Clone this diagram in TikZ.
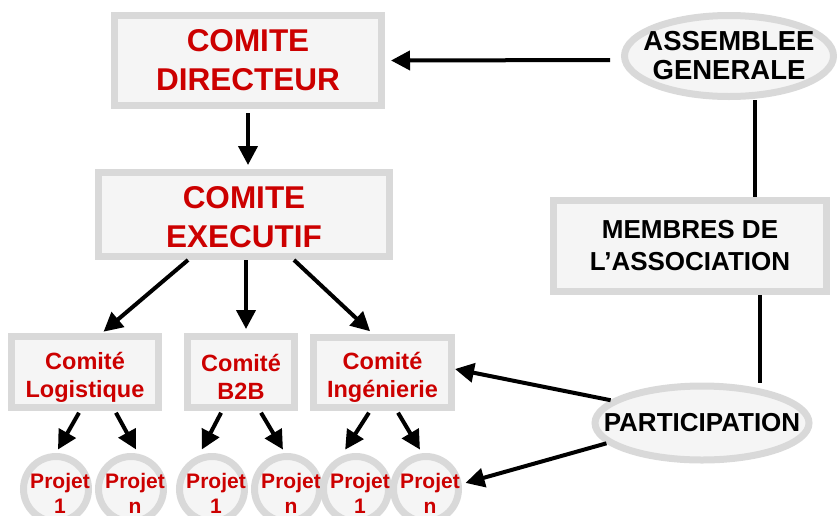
\documentclass[tikz,border=0pt]{standalone}
\usepackage{fontspec}
\setmainfont{Liberation Sans}
\usetikzlibrary{arrows.meta,shapes.geometric,positioning}
\definecolor{comred}{RGB}{204,0,0}
\definecolor{framegray}{RGB}{217,217,217}
\definecolor{panegray}{RGB}{245,245,245}

\begin{document}
\begin{tikzpicture}[x=1pt, y=-1pt,
        box/.style={draw=framegray, fill=panegray, line width=7pt, inner sep=0pt, align=center},
        oval/.style={box, ellipse},
        proj/.style={box, circle, minimum size=65pt},
        big/.style={text=comred, font=\bfseries\fontsize{31.5}{39}\selectfont},
        com/.style={text=comred, font=\bfseries\fontsize{23.5}{28}\selectfont, align=center, yshift=-5pt},
        projtxt/.style={text=comred, font=\bfseries\fontsize{21}{25}\selectfont, align=center, xshift=4pt, yshift=-4pt},
        blk/.style 2 args={text=black, font=\bfseries\fontsize{#1}{#2}\selectfont, align=center},
        arr/.style={-{Triangle[length=19pt,width=19pt]}, line width=4pt},
        link/.style={line width=4pt}]
        \useasboundingbox (0,0) rectangle (837,515);

        % committees
        \node[box, big, minimum width=267pt, minimum height=90pt] (dir) at (248,60.5) {COMITE\\DIRECTEUR};
        \node[box, big, minimum width=291pt, minimum height=84pt, label={[big, align=center, yshift=-3pt]center:COMITE\\EXECUTIF}] (exe) at (244,214.5) {};
        \node[box, minimum width=147pt, minimum height=71pt, label={[com]center:Comité\\Logistique}] (log) at (85,372) {};
        \node[box, minimum width=107pt, minimum height=71pt, label={[com]center:Comité\\B2B}] (b2b) at (241,372) {};
        \node[box, minimum width=138pt, minimum height=70pt, label={[com]center:Comité\\Ingénierie}] (ing) at (382.5,372.5) {};

        % association side
        \node[oval, minimum width=209pt, minimum height=81pt, label={[blk={27.5}{29}]center:ASSEMBLEE\\GENERALE}] (ag) at (729,56) {};
        \node[box, blk={26}{32}, minimum width=273pt, minimum height=91pt] (mem) at (690,246) {MEMBRES DE\\L’ASSOCIATION};
        \node[oval, minimum width=214pt, minimum height=74pt, label={[blk={26}{30}]center:PARTICIPATION}] (part) at (702,423) {};

        % projects
        \node[proj, label={[projtxt]center:Projet\\1}] (p1) at (56,489) {};
        \node[proj, label={[projtxt]center:Projet\\n}] (p2) at (131,489) {};
        \node[proj, label={[projtxt]center:Projet\\1}] (p3) at (212,489) {};
        \node[proj, label={[projtxt]center:Projet\\n}] (p4) at (287,489) {};
        \node[proj, label={[projtxt]center:Projet\\1}] (p5) at (356,489) {};
        \node[proj, label={[projtxt]center:Projet\\n}] (p6) at (426,489) {};

        \draw[arr, shorten <=11pt, shorten >=6pt] ([yshift=-4pt]ag.west) -- (dir.east);
        \draw[arr, shorten <=4pt, shorten >=4pt] (dir.south) -- (dir.south |- exe.north);
        \draw[arr, shorten >=2pt] ([xshift=-56pt]exe.south) -- ([xshift=17pt]log.north);
        \draw[arr, shorten >=4pt] ([xshift=2pt]exe.south) -- ([xshift=5pt]b2b.north);
        \draw[arr, shorten >=4pt] ([xshift=50pt]exe.south) -- ([xshift=-9.5pt]ing.north);

        \draw[arr, shorten <=2pt, shorten >=4pt] ([xshift=-5pt]log.south) -- (p1.north);
        \draw[arr, shorten <=2pt, shorten >=4pt] ([xshift=30pt]log.south) -- ([xshift=7pt]p2.north);
        \draw[arr, shorten <=2pt, shorten >=4pt] ([xshift=-19pt]b2b.south) -- ([xshift=-12pt]p3.north);
        \draw[arr, shorten <=2pt, shorten >=4pt] ([xshift=19pt]b2b.south) -- ([xshift=-2pt]p4.north);
        \draw[arr, shorten <=2pt, shorten >=4pt] ([xshift=-12.5pt]ing.south) -- ([xshift=-13pt]p5.north);
        \draw[arr, shorten <=2pt, shorten >=4pt] ([xshift=14.5pt]ing.south) -- ([xshift=-4pt]p6.north);

        \draw[arr] (part.166) -- ([yshift=3.5pt]ing.east);
        \draw[arr, shorten >=4pt] (part.192) -- (p6.8);

        \draw[link] ([xshift=26pt]ag.south) -- ([xshift=65pt]mem.north);
        \draw[link] ([xshift=70pt]mem.south) -- ([xshift=58pt]part.north);
    \end{tikzpicture}
\end{document}
